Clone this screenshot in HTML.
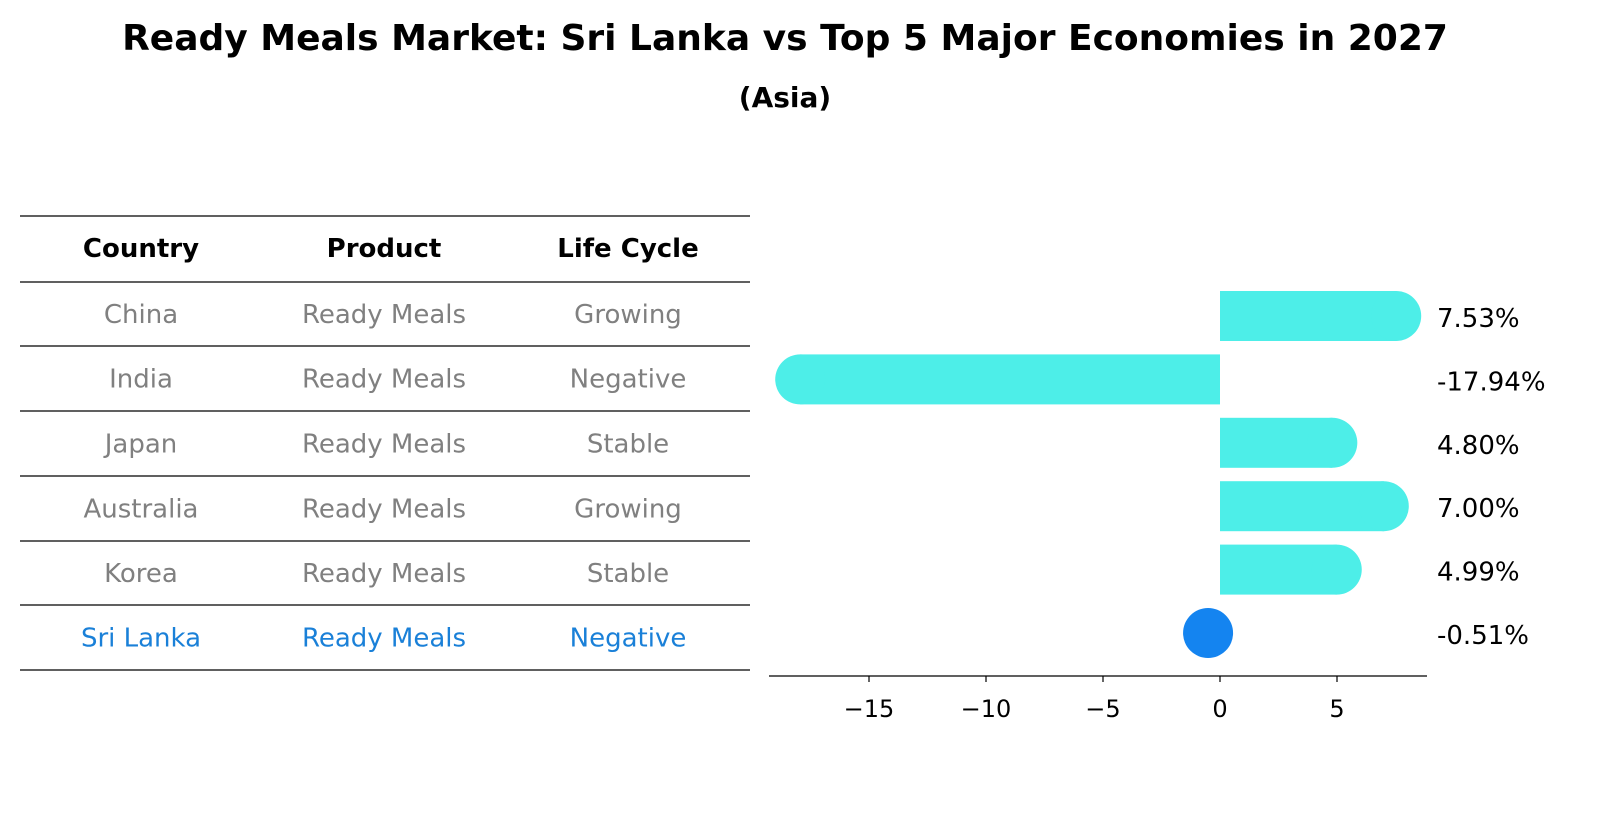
<!DOCTYPE html>
<html><head><meta charset="utf-8"><style>
body{margin:0;background:#fff;width:1614px;height:823px;overflow:hidden;font-family:"Liberation Sans","DejaVu Sans",sans-serif}
</style></head><body>
<svg width="1614" height="823" xmlns="http://www.w3.org/2000/svg" font-family="DejaVu Sans, Liberation Sans, sans-serif">
<text x="785" y="50" text-anchor="middle" font-size="36" font-weight="bold">Ready Meals Market: Sri Lanka vs Top 5 Major Economies in 2027</text>
<text x="785" y="107" text-anchor="middle" font-size="28" font-weight="bold">(Asia)</text>
<g id="table"></g>
<g id="bars"></g>
</svg>
<script>
const countries=["China","India","Japan","Australia","Korea","Sri Lanka"];
const products=["Ready Meals","Ready Meals","Ready Meals","Ready Meals","Ready Meals","Ready Meals"];
const lifeCycles=["Growing","Negative","Stable","Growing","Stable","Negative"];
const growth=[7.53,-17.94,4.80,7.00,4.99,-0.51];
const valueLabels=["7.53%","-17.94%","4.80%","7.00%","4.99%","-0.51%"];
const ticks=[-15,-10,-5,0,5];
const tickLabels=["\u221215","\u221210","\u22125","0","5"];

const NS="http://www.w3.org/2000/svg";
function mk(tag,attrs,parent,text){const e=document.createElementNS(NS,tag);for(const k in attrs)e.setAttribute(k,attrs[k]);if(text!==undefined)e.textContent=text;parent.appendChild(e);return e;}
const tbl=document.getElementById('table');
const colX=[141,384,628];
const lineY=[216,282,346,411,476,541,605,670];
lineY.forEach(y=>{const l=mk('line',{x1:20,x2:750,y1:y,y2:y,stroke:'#000','stroke-width':1.2},tbl);

});
["Country","Product","Life Cycle"].forEach((h,i)=>{const t=mk('text',{x:colX[i],y:257,'text-anchor':'middle','font-size':26,'font-weight':'bold'},tbl,h);

});
countries.forEach((c,r)=>{const y=(lineY[r+1]+lineY[r+2])/2+9;const col=r===countries.length-1?'#1a80d8':'#808080';
[c,products[r],lifeCycles[r]].forEach((v,i)=>{const t=mk('text',{x:colX[i],y:y,'text-anchor':'middle','font-size':26,fill:col},tbl,v);

});});

const g=document.getElementById('bars');
const x0=1220,scale=23.4;
function xs(v){return x0+v*scale;}
function ys(i){return 316+i*63.4;}
const bh=50,r=25;
growth.forEach((v,i)=>{const y=ys(i);const hl=i===growth.length-1;const col=hl?'#1484f0':'#4deee8';
if(!hl){const x1=Math.min(xs(0),xs(v)),w=Math.abs(xs(v)-xs(0));
const b=mk('rect',{x:x1,y:y-bh/2,width:w,height:bh,fill:col},g);

}
const c=mk('circle',{cx:xs(v),cy:y,r:r,fill:col},g);


const t=mk('text',{x:1437,y:y+11,'font-size':26},g,valueLabels[i]);

});
const ax=mk('line',{x1:769,x2:1427,y1:676,y2:676,stroke:'#000','stroke-width':1.2},g);


ticks.forEach((t,i)=>{const tk=mk('line',{x1:xs(t),x2:xs(t),y1:676,y2:682,stroke:'#000','stroke-width':1.2},g);


const tl=mk('text',{x:xs(t),y:717,'text-anchor':'middle','font-size':24},g,tickLabels[i]);

});
</script>
</body></html>
